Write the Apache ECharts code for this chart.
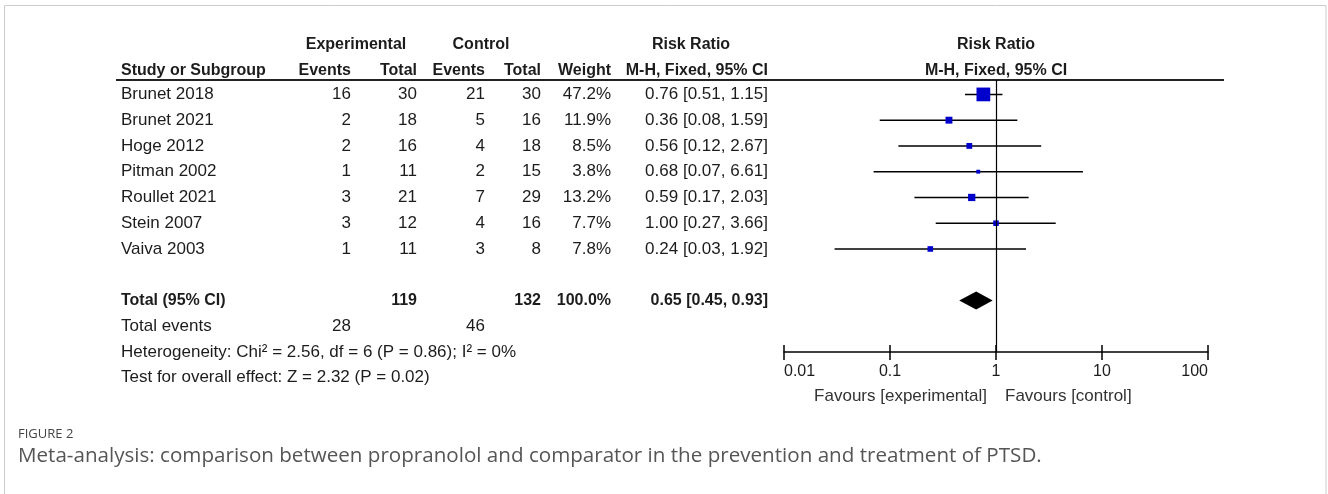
<!DOCTYPE html>
<html>
<head>
<meta charset="utf-8">
<script src="https://cdn.jsdelivr.net/npm/echarts@6/dist/echarts.min.js"></script>
<style>
  html, body { margin: 0; padding: 0; background: #ffffff; }
  #chart { width: 1328px; height: 494px; }
</style>
</head>
<body>
<div id="chart"></div>
<script>
// Study-level data
const studies   = ['Brunet 2018', 'Brunet 2021', 'Hoge 2012', 'Pitman 2002', 'Roullet 2021', 'Stein 2007', 'Vaiva 2003'];
const expEvents = [16, 2, 2, 1, 3, 3, 1];
const expTotal  = [30, 18, 16, 11, 21, 12, 11];
const ctlEvents = [21, 5, 4, 2, 7, 4, 3];
const ctlTotal  = [30, 16, 18, 15, 29, 16, 8];
const weights   = [47.2, 11.9, 8.5, 3.8, 13.2, 7.7, 7.8];
const riskRatio = [0.76, 0.36, 0.56, 0.68, 0.59, 1.00, 0.24];
const ciLow     = [0.51, 0.08, 0.12, 0.07, 0.17, 0.27, 0.03];
const ciHigh    = [1.15, 1.59, 2.67, 6.61, 2.03, 3.66, 1.92];

// Pooled result
const pooledRR    = [0.65];
const pooledLow   = [0.45];
const pooledHigh  = [0.93];
const pooledTotals = [119, 132];       // experimental, control
const pooledEvents = [28, 46];         // experimental, control
const pooledWeight = ['100.0%'];

const xTickLabels = ['0.01', '0.1', '1', '10', '100'];

const heterogeneityText = 'Heterogeneity: Chi\u00B2 = 2.56, df = 6 (P = 0.86); I\u00B2 = 0%';
const overallText = 'Test for overall effect: Z = 2.32 (P = 0.02)';

// Layout constants
const FONT = '"Liberation Sans", Arial, sans-serif';
const CAPTION_FONT = '"Open Sans", "Noto Sans", sans-serif';
const TXT = '#1c1c1c';
const REG = 17, BOLD = 16;
const colStudy = 121;
const colExpEv = 351, colExpTot = 417, colCtlEv = 485, colCtlTot = 541, colWeight = 611, colCI = 768;
const ROW_TOTAL = 8, ROW_EVENTS = 9, ROW_HET = 10, ROW_TEST = 11;
const Y_MIN = -0.56, Y_MAX = 10;

const fmt = v => v.toFixed(2);
const ciText = (r, l, h) => fmt(r) + ' [' + fmt(l) + ', ' + fmt(h) + ']';

const chart = echarts.init(document.getElementById('chart'), null, { renderer: 'canvas' });

const tickLabel = v => {
  const idx = Math.round(Math.log10(v)) + 2;
  return xTickLabels[idx] !== undefined ? xTickLabels[idx] : '';
};

const logAxisBase = { type: 'log', logBase: 10, min: 0.01, max: 100, position: 'bottom', splitLine: { show: false }, minorTick: { show: false } };

chart.setOption({
  animation: false,
  backgroundColor: '#ffffff',
  grid: { left: 784, width: 424, top: 80, height: 272, containLabel: false },
  xAxis: [
    Object.assign({}, logAxisBase, {
      axisLine: { show: true, onZero: false, lineStyle: { color: '#000', width: 1.5 } },
      axisTick: { show: true, inside: false, length: 8, lineStyle: { color: '#000', width: 1.5 } },
      axisLabel: {
        show: true, margin: 12, color: TXT, fontSize: 16, fontFamily: FONT,
        alignMinLabel: 'left', alignMaxLabel: 'right',
        formatter: tickLabel
      }
    }),
    Object.assign({}, logAxisBase, {
      // upward half of each tick mark
      offset: 0,
      axisLine: { show: false, onZero: false },
      axisTick: { show: true, inside: true, length: 7, lineStyle: { color: '#000', width: 1.5 } },
      axisLabel: { show: false }
    })
  ],
  yAxis: { type: 'value', inverse: true, min: Y_MIN, max: Y_MAX, show: false },
  series: [
    {
      // confidence interval whiskers
      type: 'custom',
      name: 'ci',
      encode: { x: [1, 2], y: 0 },
      data: studies.map((s, i) => [i, ciLow[i], ciHigh[i]]),
      renderItem: (params, api) => {
        const a = api.coord([api.value(1), api.value(0)]);
        const b = api.coord([api.value(2), api.value(0)]);
        return {
          type: 'line',
          shape: { x1: a[0], y1: a[1], x2: b[0], y2: b[1] },
          style: { stroke: '#000', lineWidth: 1.5 }
        };
      },
      markLine: {
        silent: true, symbol: 'none', animation: false,
        label: { show: false },
        lineStyle: { color: '#000', width: 1.2, type: 'solid' },
        data: [{ xAxis: 1 }]
      },
      z: 2
    },
    {
      // point estimates, box area scaled by weight
      type: 'scatter',
      name: 'estimate',
      symbol: 'rect',
      symbolSize: v => 2 * Math.sqrt(v[2]),
      itemStyle: { color: '#0000cc', opacity: 1 },
      data: studies.map((s, i) => [riskRatio[i], i, weights[i]]),
      z: 3
    },
    {
      // pooled diamond
      type: 'custom',
      name: 'pooled',
      encode: { x: [1, 2, 3], y: 0 },
      data: [[ROW_TOTAL, pooledLow[0], pooledRR[0], pooledHigh[0]]],
      renderItem: (params, api) => {
        const row = api.value(0);
        const lo = api.coord([api.value(1), row]);
        const mid = api.coord([api.value(2), row]);
        const hi = api.coord([api.value(3), row]);
        const h = 9;
        return {
          type: 'polygon',
          shape: { points: [[lo[0], lo[1]], [mid[0], mid[1] - h], [hi[0], hi[1]], [mid[0], mid[1] + h]] },
          style: { fill: '#000' }
        };
      },
      z: 3
    }
  ]
});

// Table text placed on the same row scale as the plot
const yPix = r => chart.convertToPixel({ yAxisIndex: 0 }, r);
const xPix = v => chart.convertToPixel({ xAxisIndex: 0 }, v);

const txt = (text, x, row, opts) => {
  opts = opts || {};
  return {
    type: 'text',
    x: x, y: typeof row === 'number' ? yPix(row) : row.px,
    silent: true,
    style: {
      text: String(text), x: 0, y: 0,
      align: opts.align || 'left', verticalAlign: 'middle',
      fill: opts.fill || TXT,
      fontFamily: opts.family || FONT,
      fontSize: opts.size || (opts.bold ? BOLD : REG),
      fontWeight: opts.bold ? 'bold' : 'normal'
    }
  };
};

const els = [];
// frame
els.push({ type: 'rect', silent: true, z: -1,
  shape: { x: 4.5, y: 5.5, width: 1321.5, height: 520 },
  style: { fill: 'none', stroke: '#cccccc', lineWidth: 1 } });

// header lines
const H1 = -1.92, H2 = -0.93;
els.push(txt('Experimental', 356, H1, { bold: true, align: 'center' }));
els.push(txt('Control', 481, H1, { bold: true, align: 'center' }));
els.push(txt('Risk Ratio', 691, H1, { bold: true, align: 'center' }));
els.push(txt('Risk Ratio', xPix(1), H1, { bold: true, align: 'center' }));
els.push(txt('Study or Subgroup', colStudy, H2, { bold: true }));
els.push(txt('Events', colExpEv, H2, { bold: true, align: 'right' }));
els.push(txt('Total', colExpTot, H2, { bold: true, align: 'right' }));
els.push(txt('Events', colCtlEv, H2, { bold: true, align: 'right' }));
els.push(txt('Total', colCtlTot, H2, { bold: true, align: 'right' }));
els.push(txt('Weight', colWeight, H2, { bold: true, align: 'right' }));
els.push(txt('M-H, Fixed, 95% CI', colCI, H2, { bold: true, align: 'right' }));
els.push(txt('M-H, Fixed, 95% CI', xPix(1), H2, { bold: true, align: 'center' }));

// rule under the header
els.push({ type: 'line', silent: true,
  shape: { x1: 116, y1: yPix(Y_MIN), x2: 1224, y2: yPix(Y_MIN) },
  style: { stroke: '#222', lineWidth: 2 } });

// study rows
studies.forEach((s, i) => {
  els.push(txt(s, colStudy, i));
  els.push(txt(expEvents[i], colExpEv, i, { align: 'right' }));
  els.push(txt(expTotal[i], colExpTot, i, { align: 'right' }));
  els.push(txt(ctlEvents[i], colCtlEv, i, { align: 'right' }));
  els.push(txt(ctlTotal[i], colCtlTot, i, { align: 'right' }));
  els.push(txt(weights[i].toFixed(1) + '%', colWeight, i, { align: 'right' }));
  els.push(txt(ciText(riskRatio[i], ciLow[i], ciHigh[i]), colCI, i, { align: 'right' }));
});

// pooled rows
els.push(txt('Total (95% CI)', colStudy, ROW_TOTAL, { bold: true }));
els.push(txt(pooledTotals[0], colExpTot, ROW_TOTAL, { bold: true, align: 'right' }));
els.push(txt(pooledTotals[1], colCtlTot, ROW_TOTAL, { bold: true, align: 'right' }));
els.push(txt(pooledWeight[0], colWeight, ROW_TOTAL, { bold: true, align: 'right' }));
els.push(txt(ciText(pooledRR[0], pooledLow[0], pooledHigh[0]), colCI, ROW_TOTAL, { bold: true, align: 'right' }));
els.push(txt('Total events', colStudy, ROW_EVENTS));
els.push(txt(pooledEvents[0], colExpEv, ROW_EVENTS, { align: 'right' }));
els.push(txt(pooledEvents[1], colCtlEv, ROW_EVENTS, { align: 'right' }));
els.push(txt(heterogeneityText, colStudy, ROW_HET));
els.push(txt(overallText, colStudy, ROW_TEST));

// favours labels under the axis
const favY = { px: 396 };
els.push(txt('Favours [experimental]', xPix(1) - 9, favY, { align: 'right', fill: '#333' }));
els.push(txt('Favours [control]', xPix(1) + 9, favY, { align: 'left', fill: '#333' }));

// figure caption
els.push(txt('FIGURE 2', 18, { px: 434 }, { family: CAPTION_FONT, size: 13, fill: '#444' }));
els.push(txt('Meta-analysis: comparison between propranolol and comparator in the prevention and treatment of PTSD.',
  18, { px: 456 }, { family: CAPTION_FONT, size: 20.6, fill: '#555' }));

chart.setOption({ graphic: { elements: els } });
</script>
</body>
</html>
